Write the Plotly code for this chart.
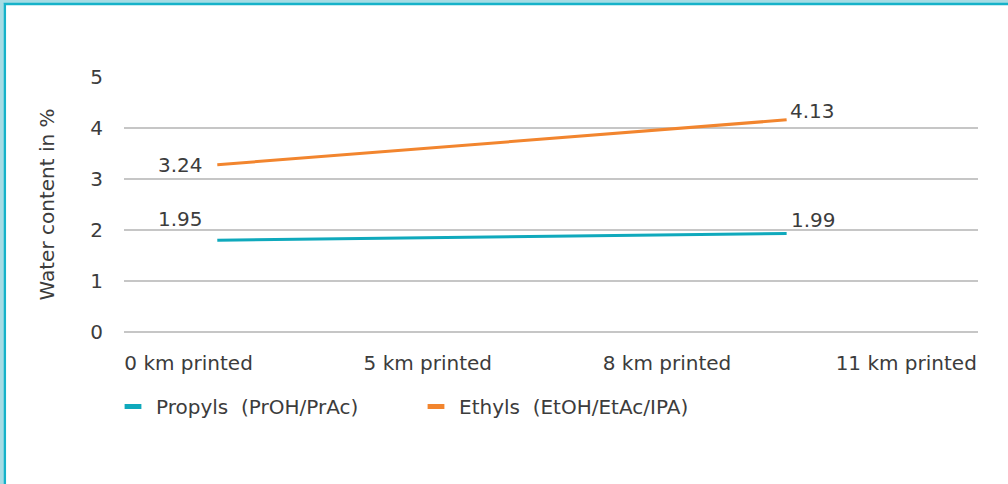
import plotly.graph_objects as go

categories = ["0 km printed", "5 km printed", "8 km printed", "11 km printed"]
category_pos = [0, 1, 2, 3]

# line end points (x in category units, y in %)
line_x = [0.12, 2.50]
propyls = [1.80, 1.93]
ethyls = [3.28, 4.16]
propyls_labels = ["1.95", "1.99"]
ethyls_labels = ["3.24", "4.13"]

TEAL = "#0FA9BC"
ORANGE = "#F2852E"
TXT = "#3C3C3C"
FONT = "DejaVu Sans"
FS = 20

L, R, T, B = 124, 30, 77, 152
W, H = 1008, 484
pw, ph = W - L - R, H - T - B

def px(x):
    return (x - L) / pw

def py(y):
    return (H - B - y) / ph

fig = go.Figure()
fig.add_trace(go.Scatter(x=line_x, y=propyls, mode="lines", line=dict(color=TEAL, width=3),
                         showlegend=False, hoverinfo="skip"))
fig.add_trace(go.Scatter(x=line_x, y=ethyls, mode="lines", line=dict(color=ORANGE, width=3),
                         showlegend=False, hoverinfo="skip"))
# legend entries
fig.add_trace(go.Scatter(x=[None], y=[None], mode="markers", name="Propyls  (PrOH/PrAc)",
                         marker=dict(symbol="line-ew", size=12, line=dict(color=TEAL, width=6))))
fig.add_trace(go.Scatter(x=[None], y=[None], mode="markers", name="Ethyls  (EtOH/EtAc/IPA)",
                         marker=dict(symbol="line-ew", size=12, line=dict(color=ORANGE, width=6))))

# data labels placed at the data points
label_style = [
    # (xanchor, xshift, yshift)
    [("right", -12, 21), ("left", 2, 14)],
    [("right", -12, 0), ("left", 1, 9)],
]
annotations = []
for si, (vals, labs) in enumerate([(propyls, propyls_labels), (ethyls, ethyls_labels)]):
    for i in range(len(line_x)):
        xa, xs, ys = label_style[si][i]
        annotations.append(dict(x=line_x[i], y=vals[i], xref="x", yref="y", text=labs[i],
                                showarrow=False, xanchor=xa, yanchor="middle",
                                xshift=xs, yshift=ys,
                                font=dict(size=FS, color=TXT, family=FONT)))

shapes = [
    dict(type="rect", xref="paper", yref="paper", x0=px(-2), x1=px(1300), y0=py(-2), y1=py(800),
         line=dict(color="#A6DCE4", width=11), fillcolor="rgba(0,0,0,0)", layer="above"),
    dict(type="rect", xref="paper", yref="paper", x0=px(4.8), x1=px(1300), y0=py(4), y1=py(800),
         line=dict(color="#16B2C9", width=2.5), fillcolor="rgba(0,0,0,0)", layer="above"),
]

fig.update_layout(
    width=W, height=H, margin=dict(l=L, r=R, t=T, b=B),
    paper_bgcolor="white", plot_bgcolor="white",
    font=dict(family=FONT, size=FS, color=TXT),
    shapes=shapes, annotations=annotations,
    xaxis=dict(range=[-0.27, 3.30], tickvals=category_pos, ticktext=categories,
               showgrid=False, zeroline=False, showline=False, ticks="",
               ticklabelstandoff=17, tickfont=dict(size=FS, color=TXT)),
    yaxis=dict(range=[0, 5], dtick=1, showgrid=True, gridcolor="#C6C6C6", gridwidth=2,
               zeroline=True, zerolinecolor="#C6C6C6", zerolinewidth=2,
               showline=False, ticks="", ticklabelstandoff=20,
               tickfont=dict(size=FS, color=TXT),
               title=dict(text="Water content in %", font=dict(size=FS, color=TXT), standoff=30)),
    legend=dict(orientation="h", x=px(110), y=py(387), xanchor="left", yanchor="top",
                font=dict(size=FS, color=TXT), entrywidth=252, itemwidth=36),
    hovermode=False,
)

fig.write_html("out.html", config={"displayModeBar": False},
               post_script="document.body.style.margin='0';")
